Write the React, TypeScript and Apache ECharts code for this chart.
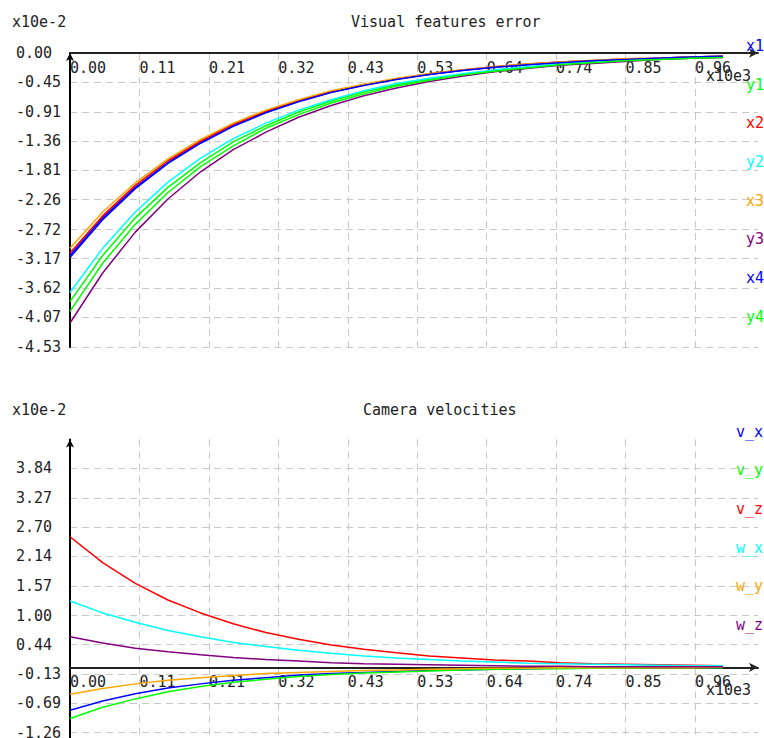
import React, { useEffect, useRef } from "react";
import * as echarts from "echarts";

// iterations, in units of x10e3
const iters = [0, 0.05, 0.1, 0.15, 0.2, 0.25, 0.3, 0.35, 0.4, 0.45, 0.5, 0.55, 0.6, 0.65, 0.7, 0.75, 0.8, 0.85, 0.9, 0.95, 1.0];

// Visual features error (x10e-2)
const errX1 = [-3.12, -2.54, -2.07, -1.69, -1.37, -1.12, -0.91, -0.74, -0.6, -0.49, -0.4, -0.33, -0.27, -0.22, -0.18, -0.14, -0.12, -0.1, -0.08, -0.06, -0.05];
const errY1 = [-3.83, -3.12, -2.54, -2.07, -1.69, -1.37, -1.12, -0.91, -0.74, -0.6, -0.49, -0.4, -0.33, -0.27, -0.22, -0.18, -0.14, -0.12, -0.1, -0.08, -0.06];
const errX2 = [-3.08, -2.51, -2.04, -1.66, -1.36, -1.1, -0.9, -0.73, -0.6, -0.49, -0.4, -0.32, -0.26, -0.21, -0.17, -0.14, -0.12, -0.09, -0.08, -0.06, -0.05];
const errY2 = [-3.69, -3.01, -2.45, -1.99, -1.62, -1.32, -1.08, -0.88, -0.72, -0.58, -0.47, -0.39, -0.32, -0.26, -0.21, -0.17, -0.14, -0.11, -0.09, -0.07, -0.06];
const errX3 = [-3.01, -2.45, -2.0, -1.63, -1.33, -1.08, -0.88, -0.72, -0.58, -0.48, -0.39, -0.32, -0.26, -0.21, -0.17, -0.14, -0.11, -0.09, -0.08, -0.06, -0.05];
const errY3 = [-4.16, -3.39, -2.76, -2.25, -1.83, -1.49, -1.22, -0.99, -0.81, -0.66, -0.54, -0.44, -0.36, -0.29, -0.24, -0.19, -0.16, -0.13, -0.1, -0.08, -0.07];
const errX4 = [-3.15, -2.57, -2.09, -1.7, -1.39, -1.13, -0.92, -0.75, -0.61, -0.5, -0.41, -0.33, -0.27, -0.22, -0.18, -0.15, -0.12, -0.1, -0.08, -0.06, -0.05];
const errY4 = [-3.98, -3.24, -2.64, -2.15, -1.75, -1.43, -1.16, -0.95, -0.77, -0.63, -0.51, -0.42, -0.34, -0.28, -0.23, -0.18, -0.15, -0.12, -0.1, -0.08, -0.07];

// Camera velocities (x10e-2)
const velVx = [-0.83, -0.65, -0.51, -0.4, -0.32, -0.25, -0.2, -0.15, -0.12, -0.1, -0.08, -0.06, -0.05, -0.04, -0.03, -0.02, -0.02, -0.01, -0.01, -0.01, -0.01];
const velVy = [-0.99, -0.77, -0.61, -0.47, -0.37, -0.29, -0.23, -0.18, -0.14, -0.11, -0.09, -0.07, -0.05, -0.04, -0.03, -0.03, -0.02, -0.02, -0.01, -0.01, -0.01];
const velVz = [2.52, 2.02, 1.62, 1.3, 1.05, 0.84, 0.67, 0.54, 0.43, 0.35, 0.28, 0.22, 0.18, 0.14, 0.12, 0.09, 0.07, 0.06, 0.05, 0.04, 0.03];
const velWx = [1.28, 1.05, 0.87, 0.71, 0.59, 0.48, 0.4, 0.33, 0.27, 0.22, 0.18, 0.15, 0.12, 0.1, 0.08, 0.07, 0.06, 0.05, 0.04, 0.03, 0.03];
const velWy = [-0.52, -0.41, -0.32, -0.25, -0.2, -0.16, -0.12, -0.1, -0.08, -0.06, -0.05, -0.04, -0.03, -0.02, -0.02, -0.01, -0.01, -0.01, -0.01, -0.01, 0.0];
const velWz = [0.59, 0.47, 0.37, 0.3, 0.24, 0.19, 0.15, 0.12, 0.09, 0.07, 0.06, 0.05, 0.04, 0.03, 0.02, 0.02, 0.01, 0.01, 0.01, 0.01, 0.01];

const errNames = ["x1", "y1", "x2", "y2", "x3", "y3", "x4", "y4"];
const errColors = ["#0000ff", "#00ff00", "#ff0000", "#00ffff", "#ffa500", "#800080", "#0000ff", "#00ff00"];
const errValues = [errX1, errY1, errX2, errY2, errX3, errY3, errX4, errY4];

const velNames = ["v_x", "v_y", "v_z", "w_x", "w_y", "w_z"];
const velColors = ["#0000ff", "#00ff00", "#ff0000", "#00ffff", "#ffa500", "#800080"];
const velValues = [velVx, velVy, velVz, velWx, velWy, velWz];

// tick labels
const xTickLabels = ["0.00", "0.11", "0.21", "0.32", "0.43", "0.53", "0.64", "0.74", "0.85", "0.96"];
const xTickStep = 0.10635;
const errYTicks = [0, -0.45, -0.91, -1.36, -1.81, -2.26, -2.72, -3.17, -3.62, -4.07, -4.53];
const velYTicks = [-1.26, -0.69, -0.13, 0.44, 1.0, 1.57, 2.14, 2.7, 3.27, 3.84];

const FONT = "DejaVu Sans Mono";

export default function App() {
  const ref = useRef<HTMLDivElement>(null);
  useEffect(() => {
    if (!ref.current) return;
    const chart = echarts.init(ref.current, null, { renderer: "svg" });
    const xTickValues = xTickLabels.map((_, i) => i * xTickStep);
    const gridLine = { show: true, lineStyle: { color: "#c8c8c8", type: [7, 5], width: 1 } };

    const grids = [
      { left: 70, top: 53, width: 688, height: 294, yMin: -4.53, yMax: 0 },
      { left: 70, top: 439.4, width: 688, height: 298.6, yMin: -1.365, yMax: 4.4 },
    ];

    const makeX = (gridIndex: number) => {
      const g = grids[gridIndex];
      // distance of the zero line below the top edge of the grid
      const zeroFromTop = (g.yMax / (g.yMax - g.yMin)) * g.height;
      return {
        type: "value",
        gridIndex,
        position: "top",
        offset: -zeroFromTop,
        min: 0,
        max: 1.0537,
        axisLine: { onZero: false, lineStyle: { color: "#222", width: 2 }, symbol: ["none", "arrow"], symbolSize: [7, 9] },
        axisTick: { show: false, customValues: xTickValues },
        axisLabel: {
          customValues: xTickValues,
          inside: true,
          align: "left",
          margin: 7,
          fontFamily: FONT,
          fontSize: 15,
          color: "#222",
          formatter: (v: number) => xTickLabels[Math.round(v / xTickStep)] ?? "",
        },
        splitLine: gridLine,
      };
    };
    const makeY = (gridIndex: number, ticks: number[]) => ({
      type: "value",
      gridIndex,
      min: grids[gridIndex].yMin,
      max: grids[gridIndex].yMax,
      axisLine: { show: true, onZero: false, lineStyle: { color: "#000", width: 2 }, symbol: ["none", "arrow"], symbolSize: [6, 8] },
      axisTick: { show: false, customValues: ticks },
      axisLabel: {
        customValues: ticks,
        align: "left",
        margin: 54,
        fontFamily: FONT,
        fontSize: 15,
        color: "#222",
        formatter: (v: number) => v.toFixed(2),
      },
      splitLine: gridLine,
    });
    const series: any[] = [];
    errNames.forEach((n, k) => {
      series.push({
        type: "line",
        name: n,
        xAxisIndex: 0,
        yAxisIndex: 0,
        showSymbol: false,
        data: iters.map((t, i) => [t, errValues[k][i]]),
        lineStyle: { color: errColors[k], width: 1.5 },
        itemStyle: { color: errColors[k] },
      });
    });
    velNames.forEach((n, k) => {
      series.push({
        type: "line",
        name: n,
        xAxisIndex: 1,
        yAxisIndex: 1,
        showSymbol: false,
        data: iters.map((t, i) => [t, velValues[k][i]]),
        lineStyle: { color: velColors[k], width: 1.5 },
        itemStyle: { color: velColors[k] },
      });
    });
    const legendBase = {
      orient: "vertical",
      itemWidth: 0,
      itemHeight: 0,
      icon: "rect",
      padding: 0,
      itemGap: 20.67,
      selectedMode: false,
      textStyle: { fontFamily: FONT, fontSize: 15, lineHeight: 18 },
    };
    const headText = (text: string, x: number, y: number) => ({
      type: "text",
      x,
      y,
      style: { text, fill: "#222", font: `15px "${FONT}"`, align: "left", verticalAlign: "middle" },
    });
    chart.setOption({
      animation: false,
      backgroundColor: "#fff",
      title: [
        { text: "Visual features error", left: 351, top: 13, padding: 0, textStyle: { fontFamily: FONT, fontSize: 15, fontWeight: "normal", color: "#222", lineHeight: 18 } },
        { text: "Camera velocities", left: 363, top: 401, padding: 0, textStyle: { fontFamily: FONT, fontSize: 15, fontWeight: "normal", color: "#222", lineHeight: 18 } },
      ],
      legend: [
        { ...legendBase, left: 741, top: 37, data: errNames.map((n, i) => ({ name: n, textStyle: { color: errColors[i] } })) },
        { ...legendBase, left: 731, top: 422.5, data: velNames.map((n, i) => ({ name: n, textStyle: { color: velColors[i] } })) },
      ],
      grid: grids.map((g) => ({ left: g.left, top: g.top, width: g.width, height: g.height, outerBoundsMode: "none", containLabel: false })),
      xAxis: [makeX(0), makeX(1)],
      yAxis: [makeY(0, errYTicks), makeY(1, velYTicks)],
      graphic: [
        headText("x10e-2", 12, 22),
        headText("x10e-2", 12, 410),
        headText("x10e3", 706, 76),
        headText("x10e3", 706, 690),
      ],
      series,
    });
    return () => chart.dispose();
  }, []);
  return <div ref={ref} style={{ position: "fixed", left: 0, top: 0, width: 764, height: 738, background: "#fff" }} />;
}
